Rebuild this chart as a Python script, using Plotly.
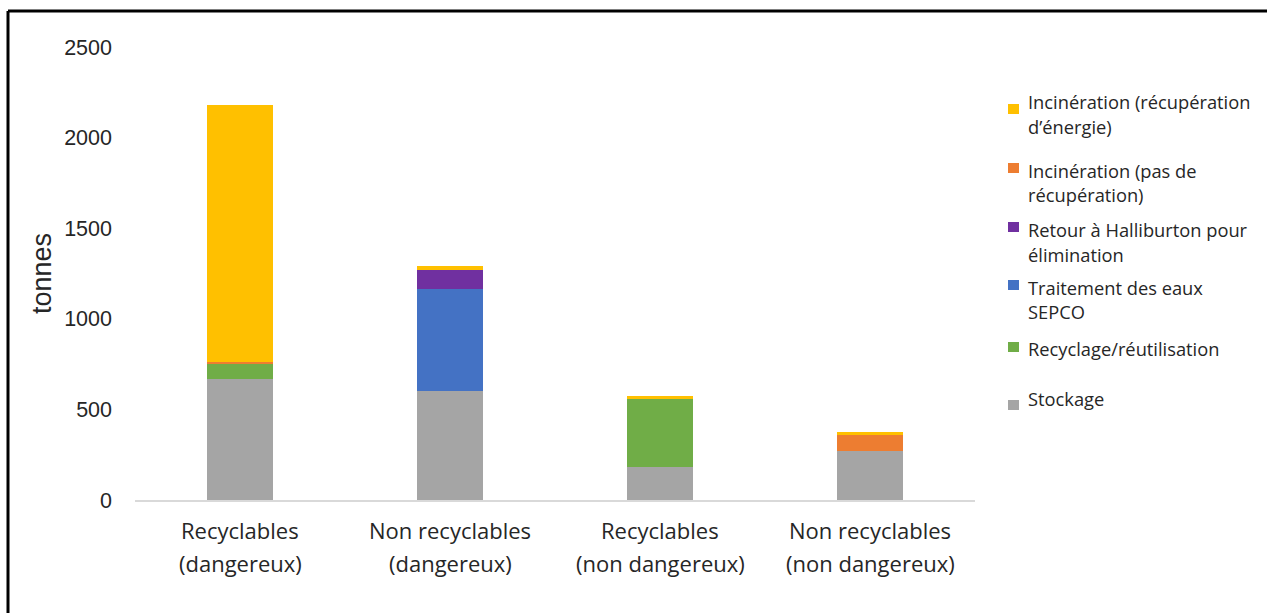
import plotly.graph_objects as go

# Waste streams by category (tonnes)
category_keys = ["rd", "nrd", "rnd", "nrnd"]
category_lines = [
    ("Recyclables", "(dangereux)"),
    ("Non recyclables", "(dangereux)"),
    ("Recyclables", "(non dangereux)"),
    ("Non recyclables", "(non dangereux)"),
]
stockage = [670, 600, 184, 269]
recyclage = [85, 0, 375, 0]
traitement_sepco = [0, 566, 0, 0]
retour_halliburton = [0, 105, 0, 0]
incineration_sans_recup = [6, 0, 0, 95]
incineration_energie = [1417, 22, 15, 9]

series = [
    ("Stockage", stockage, "#A5A5A5"),
    ("Recyclage/réutilisation", recyclage, "#70AD47"),
    ("Traitement des eaux SEPCO", traitement_sepco, "#4472C4"),
    ("Retour à Halliburton pour élimination", retour_halliburton, "#7030A0"),
    ("Incinération (pas de récupération)", incineration_sans_recup, "#ED7D31"),
    ("Incinération (récupération d’énergie)", incineration_energie, "#FFC000"),
]

# Legend entries: text lines, colour, text centre y and marker centre y (pixels)
legend_items = [
    (["Incinération (récupération", "d’énergie)"], "#FFC000", 102, 109),
    (["Incinération (pas de", "récupération)"], "#ED7D31", 170, 168),
    (["Retour à Halliburton pour", "élimination"], "#7030A0", 230, 227),
    (["Traitement des eaux", "SEPCO"], "#4472C4", 287, 285),
    (["Recyclage/réutilisation"], "#70AD47", 348, 347),
    (["Stockage"], "#A5A5A5", 398, 405),
]

W, H = 1267, 613
L, R, T, B = 135, 975, 47, 500
TEXT_FONT = "Open Sans, sans-serif"
NUM_FONT = "Liberation Sans, Arial, sans-serif"


def px_x(x):
    return (x - L) / (R - L)


def px_y(y):
    return (B - y) / (B - T)


fig = go.Figure()
for name, vals, color in series:
    fig.add_trace(go.Bar(
        x=category_keys, y=vals, name=name,
        marker=dict(color=color, line=dict(width=0)),
        showlegend=False,
    ))

shapes = []
annotations = []

# Category labels, two lines each
for key, (l1, l2) in zip(category_keys, category_lines):
    for txt, y in ((l1, 530), (l2, 563)):
        annotations.append(dict(
            text=txt, xref="x", yref="paper", x=key, y=px_y(y),
            xanchor="center", yanchor="middle", showarrow=False,
            font=dict(family=TEXT_FONT, size=22, color="#262626"),
        ))

# Legend
line_h = 24.5
for lines, color, ty, my in legend_items:
    shapes.append(dict(
        type="rect", xref="paper", yref="paper",
        x0=px_x(1008), x1=px_x(1019), y0=px_y(my - 5), y1=px_y(my + 5),
        fillcolor=color, line=dict(width=0),
    ))
    for i, txt in enumerate(lines):
        annotations.append(dict(
            text=txt, xref="paper", yref="paper",
            x=px_x(1026), y=px_y(ty + i * line_h),
            xanchor="left", yanchor="middle", showarrow=False,
            font=dict(family=TEXT_FONT, size=18.3, color="#262626"),
        ))

# Outer frame (top and left edges)
shapes.append(dict(type="line", xref="paper", yref="paper",
                   x0=px_x(8), x1=px_x(W + 5), y0=px_y(11), y1=px_y(11),
                   line=dict(color="black", width=3)))
shapes.append(dict(type="line", xref="paper", yref="paper",
                   x0=px_x(8), x1=px_x(8), y0=px_y(11), y1=px_y(H + 5),
                   line=dict(color="black", width=3)))

fig.update_layout(
    barmode="stack",
    bargap=0.69,
    width=W, height=H,
    margin=dict(l=L, r=W - R, t=T, b=H - B),
    paper_bgcolor="white", plot_bgcolor="white",
    shapes=shapes,
    annotations=annotations,
)
fig.update_xaxes(
    showline=True, linecolor="#D9D9D9", linewidth=2,
    showgrid=False, ticks="", showticklabels=False,
)
fig.update_yaxes(
    range=[0, 2500], dtick=500, showgrid=False, zeroline=False, showline=False,
    ticks="", ticklabelstandoff=22,
    tickfont=dict(family=NUM_FONT, size=21.5, color="#262626"),
    title=dict(text="tonnes", standoff=4,
               font=dict(family=NUM_FONT, size=27, color="#262626")),
)

fig.write_html("out.html")
